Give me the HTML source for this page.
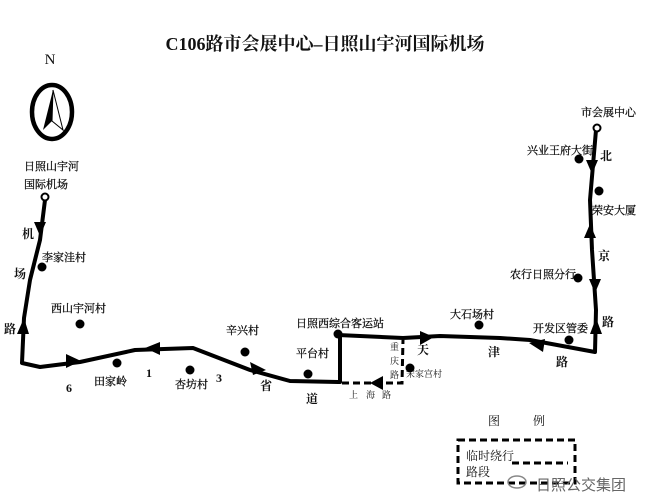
<!DOCTYPE html>
<html><head><meta charset="utf-8"><style>
html,body{margin:0;padding:0;background:#fff;width:646px;height:498px;overflow:hidden}
svg{display:block}
text{font-family:"Liberation Serif","Noto Serif CJK SC",serif;fill:#111}
.lb text{stroke:#111;stroke-width:0.3}
</style></head><body>
<svg width="646" height="498" viewBox="0 0 646 498">
<text x="325" y="50" text-anchor="middle" font-size="18" font-weight="bold">C106路市会展中心–日照山宇河国际机场</text>
<text x="50" y="64" text-anchor="middle" font-size="15">N</text>
<ellipse cx="52" cy="112" rx="20" ry="27" fill="none" stroke="#000" stroke-width="4.5"/>
<polygon points="53,90 43,130 52,121" fill="#000"/>
<polygon points="53,90 63,130 52,121" fill="none" stroke="#000" stroke-width="1"/>
<g font-size="11" class="lb">
<text x="24" y="170">日照山宇河</text>
<text x="24" y="188">国际机场</text>
<text x="42" y="261">李家洼村</text>
<text x="51" y="312">西山宇河村</text>
<text x="94" y="385">田家岭</text>
<text x="175" y="388">杏坊村</text>
<text x="226" y="334">辛兴村</text>
<text x="296" y="357">平台村</text>
<text x="296" y="327">日照西综合客运站</text>
<text x="450" y="318">大石场村</text>
<text x="533" y="332">开发区管委</text>
<text x="510" y="278">农行日照分行</text>
<text x="527" y="154">兴业王府大街</text>
<text x="592" y="214">荣安大厦</text>
<text x="581" y="116">市会展中心</text>
</g>
<g font-size="12" font-weight="bold">
<text x="22" y="238">机</text><text x="14" y="278">场</text><text x="4" y="333">路</text>
<text x="66" y="392">6</text><text x="146" y="377">1</text><text x="216" y="382">3</text>
<text x="260" y="390">省</text><text x="306" y="403">道</text>
<text x="417" y="354">天</text><text x="488" y="356">津</text><text x="556" y="366">路</text>
<text x="602" y="326">路</text><text x="598" y="260">京</text><text x="600" y="160">北</text>
</g>
<g font-size="9"><text x="390" y="350">重</text><text x="390" y="364">庆</text><text x="390" y="378">路</text>
<text x="406" y="377">宋家宫村</text>
<text x="349" y="398">上</text><text x="366" y="398">海</text><text x="382" y="398">路</text></g>
<g fill="none" stroke="#000" stroke-width="4" stroke-linejoin="round">
<polyline points="45,200 40,240 30,280 24,318 22,363 40,367 80,362 135,350 193,348 250,370 290,381 338,382 340,382 340,334"/>
<polyline points="338,335 403,338 440,336 500,338 530,340 595,352 596,310 592,250 590,200 596,130"/>
</g>
<g fill="none" stroke="#000" stroke-width="3" stroke-dasharray="7,4">
<polyline points="342,383 402,383 403,340"/>
</g>
<circle cx="45" cy="197" r="3.5" fill="#fff" stroke="#000" stroke-width="2"/>
<circle cx="597" cy="128" r="3.5" fill="#fff" stroke="#000" stroke-width="2"/>
<g fill="#000">
<polygon points="34,222 46,222 40,236"/>
<polygon points="17,334 29,334 24,318"/>
<polygon points="66,354 66,368 81,361"/>
<polygon points="160,342 160,355 145,348"/>
<polygon points="250,362 253,375 266,370"/>
<polygon points="420,331 420,345 434,337"/>
<polygon points="545,339 543,352 529,343"/>
<polygon points="590,334 602,334 596,318"/>
<polygon points="586,160 598,160 592,174"/>
<polygon points="584,238 596,238 590,224"/>
<polygon points="589,279 601,279 595,293"/>
<polygon points="383,376 383,390 370,383"/>
<circle cx="42" cy="267" r="4.5"/><circle cx="80" cy="324" r="4.5"/>
<circle cx="117" cy="363" r="4.5"/><circle cx="190" cy="370" r="4.5"/>
<circle cx="245" cy="352" r="4.5"/><circle cx="308" cy="374" r="4.5"/>
<circle cx="338" cy="334" r="4.5"/><circle cx="479" cy="325" r="4.5"/>
<circle cx="569" cy="340" r="4.5"/><circle cx="410" cy="368" r="4.5"/>
<circle cx="579" cy="159" r="4.5"/><circle cx="599" cy="191" r="4.5"/>
<circle cx="578" cy="278" r="4.5"/>
</g>
<text x="488" y="425" font-size="12">图</text><text x="533" y="425" font-size="12">例</text>
<rect x="458" y="440" width="117" height="43" fill="none" stroke="#000" stroke-width="3" stroke-dasharray="7,4"/>
<text x="466" y="460" font-size="12">临时绕行</text><text x="466" y="476" font-size="12">路段</text>
<line x1="512" y1="463" x2="568" y2="463" stroke="#000" stroke-width="3" stroke-dasharray="7,4"/>
<text x="536" y="490" font-size="15" style="font-family:'Liberation Sans','Noto Sans CJK SC',sans-serif;fill:#666">日照公交集团</text>
<ellipse cx="517" cy="482" rx="9" ry="6" fill="none" stroke="#888" stroke-width="1.5"/>
</svg>
</body></html>
